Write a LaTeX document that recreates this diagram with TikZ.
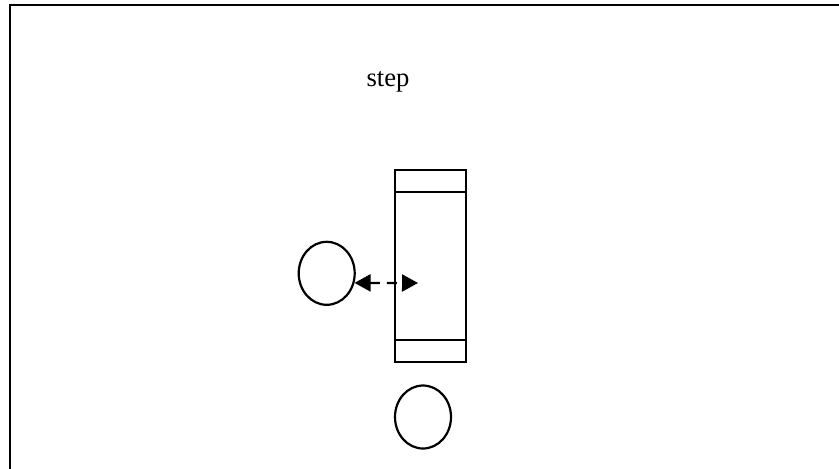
\documentclass[tikz,border=0pt]{standalone}
\usepackage{fontspec}
\setmainfont{Liberation Serif}
\usetikzlibrary{shapes.geometric,arrows.meta}
\begin{document}
\begin{tikzpicture}[x=0.5pt,y=-0.5pt,
  line width=1.1pt,
  roundshape/.style={draw,ellipse,inner sep=0pt,minimum width=28pt,minimum height=31.5pt},
  barbox/.style={draw,rectangle,inner sep=0pt,minimum width=35.5pt,minimum height=96pt},
  linkarrow/.style={dashed,dash pattern=on 5pt off 3.5pt,{Triangle[length=8pt,width=8.5pt]}-{Triangle[length=8pt,width=8.5pt]}}
]
\useasboundingbox (0,0) rectangle (839,468);
\draw[line width=1.1pt] (10,470) -- (10,5) -- (841,5);
\node[font=\fontsize{13.3pt}{16pt}\selectfont] (lbl) at (388,82) {step};
\node[barbox] (bar) at (430.5,266) {};
\draw ([yshift=-11.5pt]bar.north west) -- ([yshift=-11.5pt]bar.north east);
\draw ([yshift=11.5pt]bar.south west) -- ([yshift=11.5pt]bar.south east);
\node[roundshape] (c1) at (326.7,273.3) {};
\node[roundshape] (c2) at (423,417) {};
\coordinate (tip) at (418,283);
\draw[linkarrow] (c1.-19) -- (tip);
\end{tikzpicture}
\end{document}
